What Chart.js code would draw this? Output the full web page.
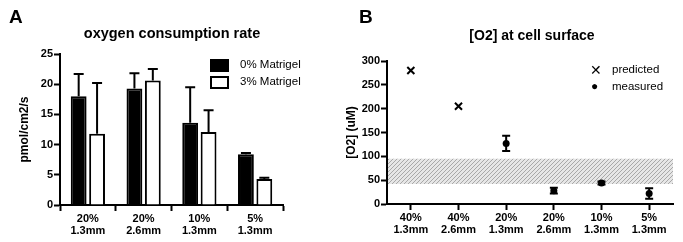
<!DOCTYPE html>
<html>
<head>
<meta charset="utf-8">
<script src="https://cdn.jsdelivr.net/npm/chart.js@4.4.1/dist/chart.umd.min.js"></script>
<style>
  body { margin: 0; background: #fff; }
  #wrap { position: relative; width: 683px; height: 242px; font-family: 'Liberation Sans', Arial, sans-serif; color: #000; }
  .panel { position: absolute; top: 0; }
  .letter { position: absolute; font-weight: bold; font-size: 19px; }
  .title { position: absolute; font-weight: bold; font-size: 14.5px; white-space: nowrap; transform: translateX(-50%); }
  .leg { position: absolute; font-size: 11.5px; white-space: nowrap; }
  .box { position: absolute; width: 15px; height: 9px; border: 2px solid #000; }
</style>
</head>
<body>
<div id="wrap">
  <canvas id="chartA" class="panel" style="left:0" width="340" height="242"></canvas>
  <canvas id="chartB" class="panel" style="left:340px" width="343" height="242"></canvas>

  <div class="letter" style="left:9px;top:6px">A</div>
  <div class="title" style="left:172px;top:25px">oxygen consumption rate</div>
  <div class="box" style="left:210px;top:59px;background:#000"></div>
  <div class="leg" style="left:240px;top:58px">0% Matrigel</div>
  <div class="box" style="left:210px;top:76px;background:#fff"></div>
  <div class="leg" style="left:240px;top:75px">3% Matrigel</div>

  <div class="letter" style="left:359px;top:6px">B</div>
  <div class="title" style="left:532px;top:27px;font-size:14px">[O2] at cell surface</div>
  <div class="leg" style="left:590px;top:62px;font-size:14px">&#x2715;</div>
  <div class="leg" style="left:612px;top:63px">predicted</div>
  <div class="leg" style="left:591px;top:79px;font-size:12px">&#x25CF;</div>
  <div class="leg" style="left:612px;top:80px">measured</div>
</div>

<script>
// panel A: oxygen consumption rate
const labelsA = [['20%', '1.3mm'], ['20%', '2.6mm'], ['10%', '1.3mm'], ['5%', '1.3mm']];
const matrigel0 = [18.0, 19.3, 13.6, 8.4];
const matrigel0Err = [3.7, 2.5, 5.9, 0.2];
const matrigel3 = [11.8, 20.6, 12.1, 4.3];
const matrigel3Err = [8.4, 1.9, 3.6, 0.2];

// panel B: [O2] at cell surface
const labelsB = [['40%', '1.3mm'], ['40%', '2.6mm'], ['20%', '1.3mm'], ['20%', '2.6mm'], ['10%', '1.3mm'], ['5%', '1.3mm']];
const predicted = [280, 205, null, null, null, null];
const measured = [null, null, 127, 28, 44, 22];
const measuredErr = [0, 0, 16, 6, 3, 11];
const hypoxicBand = [42, 95];

Chart.defaults.font.family = "'Liberation Sans', Arial, sans-serif";
Chart.defaults.color = '#000';

const tickFont = { size: 11, weight: 'bold', lineHeight: 1.1 };
const axisGrid = { display: true, drawOnChartArea: false, drawTicks: true, tickLength: 6, tickColor: '#000', tickWidth: 2 };
const axisBorder = { display: true, color: '#000', width: 2 };

// error bars drawn from the datasets' errs arrays
const errorBars = {
  id: 'errorBars',
  beforeDatasetsDraw(chart, args, opts) {
    if (!opts.behind) return;
    this.draw(chart, opts);
  },
  afterDatasetsDraw(chart, args, opts) {
    if (opts.behind) return;
    this.draw(chart, opts);
  },
  draw(chart, opts) {
    const ctx = chart.ctx;
    const y = chart.scales.y;
    ctx.save();
    ctx.strokeStyle = '#000';
    ctx.lineWidth = 2;
    chart.data.datasets.forEach((ds, di) => {
      if (!ds.errs) return;
      const meta = chart.getDatasetMeta(di);
      meta.data.forEach((el, i) => {
        const v = ds.data[i];
        const e = ds.errs[i];
        if (v == null || !e) return;
        const x = el.x;
        const top = y.getPixelForValue(v + e);
        const bot = opts.upOnly ? y.getPixelForValue(v) : y.getPixelForValue(v - e);
        const w = opts.cap;
        ctx.beginPath();
        ctx.moveTo(x, bot); ctx.lineTo(x, top);
        ctx.moveTo(x - w, top); ctx.lineTo(x + w, top);
        if (!opts.upOnly) { ctx.moveTo(x - w, bot); ctx.lineTo(x + w, bot); }
        ctx.stroke();
      });
    });
    ctx.restore();
  }
};

new Chart(document.getElementById('chartA'), {
  type: 'bar',
  data: {
    labels: labelsA,
    datasets: [
      { label: '0% Matrigel', data: matrigel0, errs: matrigel0Err, backgroundColor: '#000', borderColor: '#000', borderWidth: 2 },
      { label: '3% Matrigel', data: matrigel3, errs: matrigel3Err, backgroundColor: '#fff', borderColor: '#000', borderWidth: 2 }
    ]
  },
  options: {
    responsive: false,
    animation: false,
    layout: { padding: { left: 14, top: 54, right: 57, bottom: 0 } },
    datasets: { bar: { categoryPercentage: 0.66, barPercentage: 0.86 } },
    scales: {
      x: {
        grid: axisGrid, border: axisBorder,
        ticks: { font: tickFont, padding: 2, maxRotation: 0, autoSkip: false },
        afterFit: s => { s.height = 37; }
      },
      y: {
        min: 0, max: 25,
        grid: axisGrid, border: axisBorder,
        ticks: { stepSize: 5, font: tickFont, padding: 1 },
        title: { display: true, text: 'pmol/cm2/s', font: { size: 12, weight: 'bold' }, padding: { top: 3, bottom: 4 } },
        afterFit: s => { s.width = 46; }
      }
    },
    plugins: {
      legend: { display: false },
      tooltip: { enabled: false },
      errorBars: { upOnly: true, cap: 5, behind: false }
    }
  },
  plugins: [errorBars]
});

// hatched hypoxic range behind the points
const hatchBand = {
  id: 'hatchBand',
  beforeDatasetsDraw(chart) {
    const { ctx, chartArea, scales } = chart;
    const p = document.createElement('canvas');
    p.width = 4; p.height = 4;
    const pc = p.getContext('2d');
    pc.fillStyle = '#e6e6e6';
    pc.fillRect(0, 0, 4, 4);
    pc.strokeStyle = '#a8a8a8';
    pc.lineWidth = 1;
    pc.beginPath();
    pc.moveTo(0, 4); pc.lineTo(4, 0);
    pc.moveTo(-1, 1); pc.lineTo(1, -1);
    pc.moveTo(3, 5); pc.lineTo(5, 3);
    pc.stroke();
    const top = scales.y.getPixelForValue(hypoxicBand[1]);
    const bot = scales.y.getPixelForValue(hypoxicBand[0]);
    ctx.save();
    ctx.fillStyle = ctx.createPattern(p, 'repeat');
    ctx.fillRect(chartArea.left + 1, top, chartArea.right - chartArea.left - 1, bot - top);
    ctx.restore();
  }
};

new Chart(document.getElementById('chartB'), {
  type: 'line',
  data: {
    labels: labelsB,
    datasets: [
      { label: 'predicted', data: predicted, showLine: false, pointStyle: 'crossRot', pointRadius: 5, borderColor: '#000', borderWidth: 2 },
      { label: 'measured', data: measured, errs: measuredErr, showLine: false, pointStyle: 'circle', pointRadius: 3.5, backgroundColor: '#000', borderColor: '#000', borderWidth: 0 }
    ]
  },
  options: {
    responsive: false,
    animation: false,
    layout: { padding: { left: 2, top: 61, right: 10, bottom: 0 } },
    scales: {
      x: {
        offset: true,
        grid: { ...axisGrid, offset: false }, border: axisBorder,
        ticks: { font: tickFont, padding: 2, maxRotation: 0, autoSkip: false },
        afterFit: s => { s.height = 38; }
      },
      y: {
        min: 0, max: 300,
        grid: axisGrid, border: axisBorder,
        ticks: { stepSize: 50, font: tickFont, padding: 1 },
        title: { display: true, text: '[O2] (uM)', font: { size: 12, weight: 'bold' }, padding: { top: 2, bottom: 4 } },
        afterFit: s => { s.width = 45; }
      }
    },
    plugins: {
      legend: { display: false },
      tooltip: { enabled: false },
      errorBars: { upOnly: false, cap: 4, behind: true }
    }
  },
  plugins: [hatchBand, errorBars]
});
</script>
</body>
</html>
